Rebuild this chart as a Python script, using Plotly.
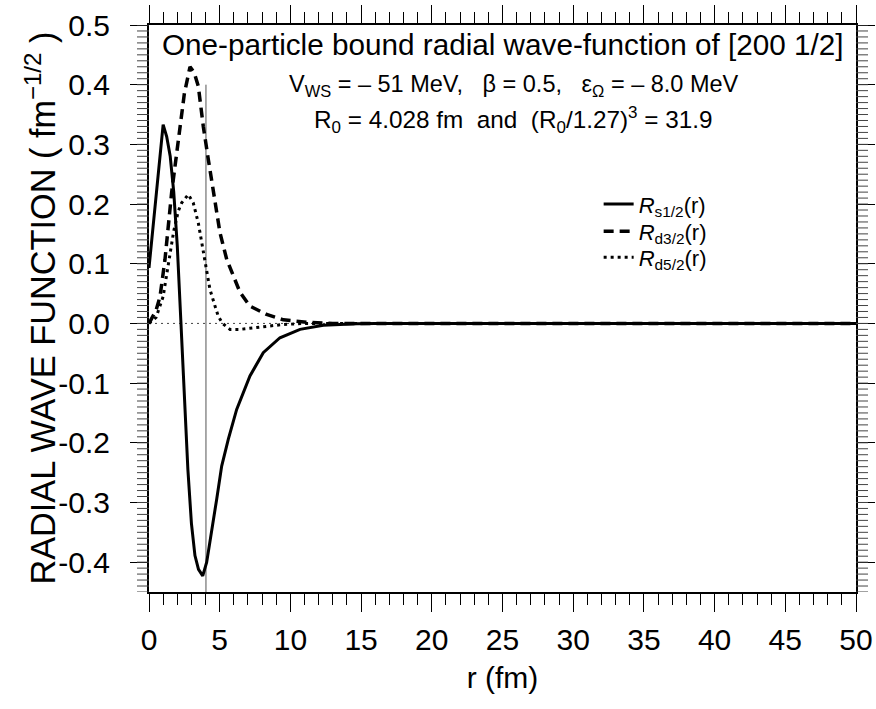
import plotly.graph_objects as go

# ---- data ----
r_s = [0.0, 0.25, 0.5, 0.75, 1.0, 1.25, 1.5, 1.75, 2.0, 2.25, 2.5, 2.75, 3.0, 3.25, 3.5, 3.8,
       4.08, 4.43, 4.79, 5.14, 5.61, 6.2, 7.14, 8.08, 9.26, 10.68, 12.33, 14.7, 16.0, 20.0, 30.0, 40.0, 50.0]
R_s = [0.093, 0.152, 0.212, 0.272, 0.333, 0.313, 0.280, 0.220, 0.130, 0.005, -0.130, -0.245, -0.335, -0.389, -0.412, -0.423,
       -0.400, -0.350, -0.294, -0.239, -0.194, -0.144, -0.088, -0.049, -0.024, -0.010, -0.003, -0.0005, 0.0, 0.0, 0.0, 0.0, 0.0]

r_d3 = [0.0, 0.28, 0.5, 0.78, 1.13, 1.6, 2.19, 2.5, 2.9, 3.2, 3.49, 3.84, 4.2, 4.55, 5.02, 5.5,
        6.44, 7.14, 8.32, 9.5, 11.15, 13.0, 20.0, 30.0, 40.0, 50.0]
R_d3 = [0.0, 0.012, 0.022, 0.045, 0.107, 0.219, 0.330, 0.385, 0.430, 0.420, 0.397, 0.330, 0.274, 0.219, 0.152, 0.107,
        0.052, 0.029, 0.015, 0.006, 0.002, 0.0, 0.0, 0.0, 0.0, 0.0]

r_d5 = [0.0, 0.5, 1.0, 1.5, 1.75, 2.07, 2.31, 2.78, 3.13, 3.49, 3.73, 4.08, 4.31, 4.67, 4.9, 5.2,
        5.73, 6.44, 7.5, 8.5, 9.4, 11.0, 20.0, 30.0, 40.0, 50.0]
R_d5 = [0.0, 0.010, 0.045, 0.120, 0.155, 0.188, 0.202, 0.216, 0.202, 0.168, 0.135, 0.085, 0.057, 0.029, 0.012, 0.0,
        -0.010, -0.010, -0.007, -0.004, -0.002, 0.0, 0.0, 0.0, 0.0, 0.0]

R0 = 4.028
R0_line_y = [0.40, -0.45]
zero_x = [0.0, 50.0]
zero_y = [0.0, 0.0]

x_range = [0, 50]
y_range = [-0.45, 0.5]
y_tickvals = [0.5, 0.4, 0.3, 0.2, 0.1, 0.0, -0.1, -0.2, -0.3, -0.4]
y_ticktext = ["0.5", "0.4", "0.3", "0.2", "0.1", "0.0", "-0.1", "-0.2", "-0.3", "-0.4"]
y_minor_ticks = [round(-0.45 + 0.01 * i, 2) for i in range(96)]

names = ["<i>R</i><sub>s1/2</sub>(r)", "<i>R</i><sub>d3/2</sub>(r)", "<i>R</i><sub>d5/2</sub>(r)"]

FONT = "Arial, Liberation Sans, Helvetica, sans-serif"
PLOT_W = 707  # plot-area width in px (876 - 149 - 20)
MINOR_LEN = 12

fig = go.Figure()

fig.add_trace(go.Scatter(x=zero_x, y=zero_y, mode="lines", showlegend=False, hoverinfo="skip",
                         line=dict(color="#444", width=1, dash="2px,4px")))
fig.add_trace(go.Scatter(x=[R0, R0], y=R0_line_y, mode="lines", showlegend=False, hoverinfo="skip",
                         line=dict(color="#555", width=1)))

fig.add_trace(go.Scatter(x=r_s, y=R_s, mode="lines", name=names[0], legend="legend",
                         line=dict(color="black", width=3)))
fig.add_trace(go.Scatter(x=r_d3, y=R_d3, mode="lines", name=names[1], legend="legend2",
                         line=dict(color="black", width=3.5, dash="10px,6px")))
fig.add_trace(go.Scatter(x=r_d5, y=R_d5, mode="lines", name=names[2], legend="legend3",
                         line=dict(color="black", width=3, dash="3px,4px")))

# invisible trace carrying the mirrored (top / right) axes
fig.add_trace(go.Scatter(x=x_range, y=y_range, xaxis="x2", yaxis="y2", mode="markers",
                         marker=dict(opacity=0), showlegend=False, hoverinfo="skip"))

# fine y ticks (every 0.01) on the left and right frame edges
shapes = []
for v in y_minor_ticks:
    for x0, x1 in [(-MINOR_LEN / PLOT_W, 0.0), (1.0, 1.0 + MINOR_LEN / PLOT_W)]:
        shapes.append(dict(type="line", xref="paper", yref="y", x0=x0, x1=x1, y0=v, y1=v,
                           line=dict(color="#444", width=1), layer="above"))

leg_common = dict(xanchor="left", yanchor="middle", bgcolor="rgba(0,0,0,0)",
                  font=dict(size=22, family=FONT), borderwidth=0)

minor_x = dict(tickmode="linear", tick0=0, dtick=1, ticks="outside", ticklen=11, tickwidth=1,
               tickcolor="black", showgrid=False)

fig.update_layout(
    width=876, height=709,
    margin=dict(l=149, r=20, t=25, b=117),
    paper_bgcolor="white", plot_bgcolor="white",
    font=dict(family=FONT, color="black"),
    showlegend=True,
    shapes=shapes,
    legend=dict(x=0.636, y=0.684, **leg_common),
    legend2=dict(x=0.636, y=0.636, **leg_common),
    legend3=dict(x=0.636, y=0.590, **leg_common),
    annotations=[
        dict(text="One-particle bound radial wave-function of [200 1/2]", x=0.5, y=0.965,
             xref="paper", yref="paper", xanchor="center", yanchor="middle", showarrow=False,
             font=dict(size=29.7, family=FONT)),
        dict(text="V<sub>WS</sub> = \u2013 51 MeV,\u00a0\u00a0 \u03b2 = 0.5,\u00a0\u00a0 \u03b5<sub>\u03a9</sub> = \u2013 8.0 MeV",
             x=0.516, y=0.893, xref="paper", yref="paper", xanchor="center", yanchor="middle", showarrow=False,
             font=dict(size=23.5, family=FONT)),
        dict(text="R<sub>0</sub> = 4.028 fm\u00a0 and\u00a0 (R<sub>0</sub>/1.27)<sup>3</sup> = 31.9",
             x=0.516, y=0.833, xref="paper", yref="paper", xanchor="center", yanchor="middle", showarrow=False,
             font=dict(size=24.3, family=FONT)),
        dict(text="RADIAL WAVE FUNCTION ( fm<sup>\u22121/2</sup> )", textangle=-90,
             x=-0.154, y=0.50, xref="paper", yref="paper", xanchor="center", yanchor="middle", showarrow=False,
             font=dict(size=34.3, family=FONT)),
    ],
    xaxis=dict(
        range=x_range, tickmode="linear", tick0=0, dtick=5, showgrid=False, zeroline=False,
        showline=True, linecolor="black", linewidth=2, automargin=False,
        ticks="outside", ticklen=18, tickwidth=1, tickcolor="black", minor=minor_x,
        tickfont=dict(size=30, family=FONT), ticklabelstandoff=2,
        title=dict(text="r (fm)", font=dict(size=30, family=FONT), standoff=12),
    ),
    yaxis=dict(
        range=y_range, tickmode="array", tickvals=y_tickvals, ticktext=y_ticktext,
        showgrid=False, zeroline=False,
        showline=True, linecolor="black", linewidth=2, automargin=False,
        ticks="outside", ticklen=17, tickwidth=1, tickcolor="black",
        tickfont=dict(size=30, family=FONT), ticklabelstandoff=14,
    ),
    xaxis2=dict(
        range=x_range, overlaying="x", side="top", anchor="y", tickmode="linear", tick0=0, dtick=5,
        showgrid=False, zeroline=False, showline=True, linecolor="black", linewidth=2,
        showticklabels=False, automargin=False,
        ticks="outside", ticklen=18, tickwidth=1, tickcolor="black", minor=minor_x,
    ),
    yaxis2=dict(
        range=y_range, overlaying="y", side="right", anchor="x", tickmode="array", tickvals=y_tickvals,
        showgrid=False, zeroline=False, showline=True, linecolor="black", linewidth=2,
        showticklabels=False, automargin=False,
        ticks="outside", ticklen=17, tickwidth=1, tickcolor="black",
    ),
)

# remove the default page margin so the 876x709 figure fills the window exactly; hide the modebar
fig.write_html("out.html", config={"displayModeBar": False},
               post_script="document.body.style.margin='0px';document.body.style.overflow='hidden';")
